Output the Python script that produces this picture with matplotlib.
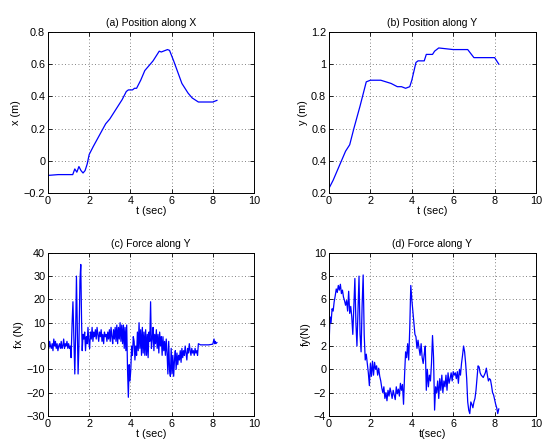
import numpy as np
import matplotlib
matplotlib.use('Agg')
import matplotlib.pyplot as plt

plt.rcParams['font.family'] = ['Liberation Sans', 'DejaVu Sans']
plt.rcParams['font.size'] = 7.8

# (a) position along X
t_x = [0, 0.5, 1.0, 1.2, 1.3, 1.4, 1.5, 1.6, 1.7, 1.8, 1.9, 2.0, 2.2, 2.5, 2.8, 3.0,
       3.3, 3.6, 3.8, 3.9, 4.1, 4.2, 4.3, 4.5, 4.7, 4.9, 5.1, 5.3, 5.4, 5.5, 5.6, 5.8,
       5.9, 6.1, 6.3, 6.5, 6.8, 7.0, 7.3, 7.5, 8.0, 8.2]
pos_x = [-0.09, -0.085, -0.085, -0.085, -0.05, -0.07, -0.035, -0.06, -0.075, -0.06,
         -0.02, 0.04, 0.09, 0.16, 0.23, 0.26, 0.32, 0.38, 0.43, 0.44, 0.44, 0.45, 0.45,
         0.50, 0.56, 0.59, 0.62, 0.66, 0.68, 0.675, 0.68, 0.69, 0.685, 0.62, 0.55, 0.48,
         0.42, 0.39, 0.365, 0.365, 0.365, 0.375]

# (b) position along Y
t_y = [0, 0.2, 0.5, 0.8, 1.0, 1.2, 1.5, 1.8, 2.0, 2.5, 3.0, 3.3, 3.5, 3.7, 3.9, 4.0,
       4.2, 4.3, 4.6, 4.7, 5.0, 5.1, 5.3, 6.0, 6.7, 7.0, 7.5, 8.0, 8.2]
pos_y = [0.23, 0.28, 0.37, 0.46, 0.50, 0.60, 0.74, 0.89, 0.90, 0.90, 0.88, 0.86, 0.86,
         0.85, 0.86, 0.90, 1.01, 1.02, 1.02, 1.06, 1.06, 1.08, 1.10, 1.09, 1.09, 1.04,
         1.04, 1.04, 1.00]

# (c) force, first channel
t_fx = [0.00, 0.04, 0.08, 0.12, 0.16, 0.20, 0.24, 0.28, 0.32, 0.36, 0.40, 0.44, 0.48,
        0.52, 0.56, 0.60, 0.64, 0.68, 0.72, 0.76, 0.80, 0.84, 0.88, 0.92, 0.96, 1.00,
        1.04, 1.08, 1.12, 1.17, 1.21, 1.25, 1.30, 1.34, 1.38, 1.42, 1.46, 1.50, 1.55,
        1.59, 1.63, 1.66, 1.70, 1.74, 1.78, 1.82, 1.86, 1.90, 1.94, 1.98, 2.02, 2.06,
        2.10, 2.14, 2.18, 2.22, 2.26, 2.30, 2.34, 2.38, 2.42, 2.46, 2.50, 2.54, 2.58,
        2.62, 2.66, 2.70, 2.74, 2.78, 2.82, 2.86, 2.90, 2.94, 2.98, 3.02, 3.06, 3.10,
        3.14, 3.18, 3.22, 3.26, 3.30, 3.34, 3.38, 3.42, 3.46, 3.50, 3.54, 3.58, 3.62,
        3.66, 3.70, 3.74, 3.78, 3.82, 3.86, 3.90, 3.94, 3.98, 4.02, 4.06, 4.10, 4.14,
        4.18, 4.22, 4.26, 4.30, 4.34, 4.38, 4.42, 4.46, 4.50, 4.54, 4.58, 4.62, 4.66,
        4.70, 4.74, 4.78, 4.82, 4.86, 4.90, 4.94, 4.98, 5.02, 5.06, 5.10, 5.14, 5.18,
        5.22, 5.26, 5.30, 5.34, 5.38, 5.42, 5.46, 5.50, 5.54, 5.58, 5.62, 5.66, 5.70,
        5.74, 5.78, 5.82, 5.86, 5.90, 5.94, 5.98, 6.02, 6.06, 6.10, 6.14, 6.18, 6.22,
        6.26, 6.30, 6.34, 6.38, 6.42, 6.46, 6.50, 6.54, 6.58, 6.62, 6.66, 6.70, 6.74,
        6.78, 6.82, 6.86, 6.90, 6.94, 6.98, 7.02, 7.06, 7.10, 7.14, 7.18, 7.22, 7.26,
        7.30, 7.40, 7.60, 7.80, 8.00, 8.03, 8.06, 8.09, 8.12, 8.15, 8.20]
fx = [1, -1, 2, 0, -1, 1, -2, 3, 0, 2, -1, 1, -2, 0, 1, -1, 2, -1, 0, 3, -1, 1, 0, 2,
      -1, 1, -1, 0, -5, 10, 19, 5, -12, 5, 30, 10, -12, 0, 28, 35, 10, -2, 5, 3, 6, -2,
      4, 1, 8, 2, -1, 6, 3, 8, 2, 6, 4, 7, 3, 8, 5, 2, 6, 4, 7, 2, 5, 1, 6, 4, 5, 2, 6,
      3, 7, 2, 8, 4, 1, 7, 3, 8, 2, 9, 1, 8, 3, 10, 2, 9, 1, 9, -1, 8, -2, 9, -10, -22,
      -8, -15, -10, 0, -4, 4, 2, -6, 0, -4, 6, -2, 10, -1, 7, -4, 8, -3, 6, -4, 7, -4, 5,
      -5, 6, 2, 19, -1, 3, 8, -2, 5, 1, 7, -1, 5, -3, 6, 0, 4, -4, 4, -2, 2, -4, 3, -3,
      -12, 2, -10, -13, -1, -12, -4, -13, -6, -2, -10, -3, -8, -4, -6, -2, -7, -1, -5, -2,
      -4, 0, -3, -6, -1, -3, 1, -2, -4, -1, -3, -2, -4, -1, -3, -2, -4, 1, 0.5, 0.5, 0.5,
      0.8, 2, 3, 1, 2, 1, 1.5]

# (d) force, second channel
t_fy = [0.00, 0.05, 0.10, 0.15, 0.20, 0.25, 0.30, 0.35, 0.40, 0.45, 0.50, 0.55, 0.60,
        0.65, 0.70, 0.75, 0.80, 0.85, 0.90, 0.95, 1.00, 1.05, 1.10, 1.15, 1.20, 1.25,
        1.30, 1.35, 1.40, 1.45, 1.50, 1.55, 1.60, 1.65, 1.70, 1.75, 1.80, 1.85, 1.90,
        1.95, 2.00, 2.05, 2.10, 2.15, 2.20, 2.25, 2.30, 2.35, 2.40, 2.45, 2.50, 2.55,
        2.60, 2.65, 2.70, 2.75, 2.80, 2.85, 2.90, 2.95, 3.00, 3.05, 3.10, 3.15, 3.20,
        3.25, 3.30, 3.35, 3.40, 3.45, 3.50, 3.55, 3.60, 3.65, 3.70, 3.75, 3.80, 3.85,
        3.90, 3.95, 4.00, 4.05, 4.10, 4.15, 4.20, 4.25, 4.30, 4.35, 4.40, 4.45, 4.50,
        4.55, 4.60, 4.65, 4.70, 4.75, 4.80, 4.85, 4.90, 4.95, 5.00, 5.05, 5.10, 5.15,
        5.20, 5.25, 5.30, 5.35, 5.40, 5.45, 5.50, 5.55, 5.60, 5.65, 5.70, 5.75, 5.80,
        5.85, 5.90, 5.95, 6.00, 6.05, 6.10, 6.15, 6.20, 6.25, 6.30, 6.35, 6.40, 6.45,
        6.50, 6.55, 6.60, 6.65, 6.70, 6.75, 6.80, 6.85, 6.90, 6.95, 7.00, 7.05, 7.10,
        7.15, 7.20, 7.25, 7.30, 7.35, 7.40, 7.45, 7.50, 7.55, 7.60, 7.65, 7.70, 7.75,
        7.80, 7.85, 7.90, 7.95, 8.00, 8.05, 8.10, 8.15, 8.20]
fy = [2.0, 4.5, 4.0, 5.2, 5.0, 5.8, 6.3, 6.9, 6.6, 7.2, 6.8, 7.3, 6.5, 6.8, 6.2, 5.9,
      5.5, 5.9, 5.0, 6.7, 4.8, 5.4, 4.5, 3.0, 5.5, 7.8, 4.0, 2.0, 5.0, 8.0, 3.0, 1.5,
      5.5, 8.1, 3.0, 0.8, 1.3, 0.5, -0.3, -1.4, 0.5, -0.6, 0.7, -0.5, 0.6, 0.0, 0.3,
      -0.5, 0.1, -0.6, -1.0, -1.6, -2.0, -1.5, -2.5, -2.0, -2.7, -1.8, -2.3, -1.6, -2.0,
      -2.5, -1.8, -2.2, -2.6, -1.5, -2.1, -1.7, -2.3, -1.2, -1.8, -1.3, -3.0, -0.5, 1.5,
      1.0, 2.2, 0.8, 3.5, 7.2, 6.0, 5.0, 4.0, 3.0, 2.8, 1.8, 2.5, 1.8, 1.2, 2.2, 1.0,
      0.5, 1.3, 2.0, -1.8, 0.0, -1.5, -0.5, -1.0, 0.5, 2.9, 1.0, -3.5, -1.5, -2.0, -1.0,
      -2.5, -0.8, -1.8, -0.5, -2.0, -1.0, -1.5, -0.5, -1.8, -0.3, -1.2, -0.8, -0.3, -1.0,
      -0.2, -0.5, -0.3, -0.8, -0.2, -1.2, 0.0, -0.5, 0.5, 1.2, 2.0, 1.5, 0.5, -0.8, -2.8,
      -3.5, -3.8, -2.8, -3.0, -3.3, -2.8, -2.5, -1.8, -0.8, 0.3, 0.2, -0.3, -0.5, -0.6,
      -0.7, -0.5, -0.3, 0.1, -0.5, -1.0, -0.8, -0.9, -1.4, -2.0, -2.2, -2.6, -3.0, -3.3,
      -3.8, -3.4]

titles = ['(a) Position along X', '(b) Position along Y',
          '(c) Force along Y', '(d) Force along Y']
ylabels = ['x (m)', 'y (m)', 'fx (N)', 'fy(N)']
xlabels = ['t (sec)', 't (sec)', 't (sec)', 't(sec)']
ylims = [(-0.2, 0.8), (0.2, 1.2), (-30, 40), (-4, 10)]
series = [(t_x, pos_x), (t_y, pos_y), (t_fx, fx), (t_fy, fy)]
rects = [[0.0886, 0.563, 0.380, 0.365], [0.607, 0.563, 0.382, 0.365],
         [0.0886, 0.059, 0.380, 0.369], [0.607, 0.059, 0.382, 0.369]]

fig = plt.figure(figsize=(5.42, 4.42), dpi=100)
for i in range(4):
    ax = fig.add_axes(rects[i])
    ax.plot(series[i][0], series[i][1], color='b', lw=0.9)
    ax.set_xlim(0, 10)
    ax.set_ylim(*ylims[i])
    ax.set_xticks([0, 2, 4, 6, 8, 10])
    ax.grid(True, color='0.35', linestyle=(0, (1, 3)), linewidth=0.6)
    ax.tick_params(direction='in', top=True, right=True, length=3, width=0.6, pad=2)
    for s in ax.spines.values():
        s.set_linewidth(0.7)
    ax.set_title(titles[i], fontsize=7.5, pad=4)
    ax.set_ylabel(ylabels[i], labelpad=2)
    ax.set_xlabel(xlabels[i], labelpad=0)
    ax.yaxis.set_major_formatter(plt.FuncFormatter(
        lambda v, p: ('%g' % v).replace('-', '\u2212')))

fig.savefig('out.png', dpi=100)
